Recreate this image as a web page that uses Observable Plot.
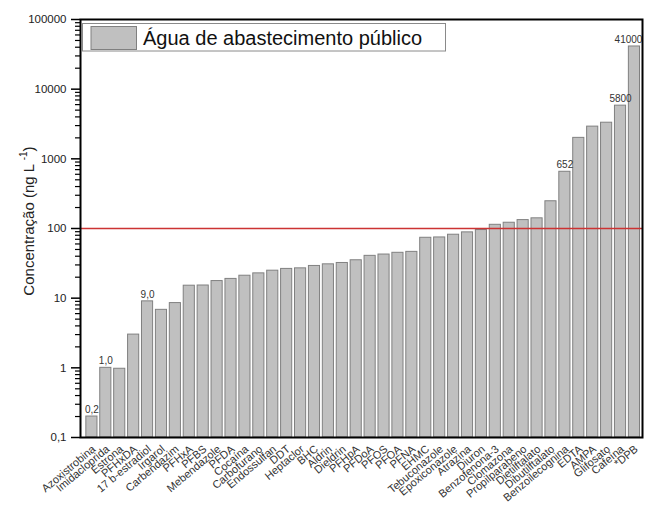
<!DOCTYPE html>
<html>
<head>
<meta charset="utf-8">
<script src="https://cdn.jsdelivr.net/npm/d3@7"></script>
<script src="https://cdn.jsdelivr.net/npm/@observablehq/plot@0.6"></script>
<style>
  body { margin: 0; background: #fff; }
  #chart { width: 646px; height: 511px; }
</style>
</head>
<body>
<div id="chart"></div>
<script>
// Compounds, ordered by concentration
const compounds = [
  "Azoxistrobina", "Imidacloprida", "Estrona", "PFHxDA", "17 b-estradiol",
  "Irgarol", "Carbendazim", "PFHxA", "PFBS", "Mebendazole",
  "PFDA", "Cocaína", "Carbofurano", "Endossulfan", "DDT",
  "Heptaclor", "BHC", "Aldrin", "Dieldrin", "PFHpA",
  "PFDoA", "PFOS", "PFOA", "PFNA", "EHMC",
  "Tebuconazole", "Epoxiconazole", "Atrazina", "Diuron", "Benzofenona-3",
  "Clomazona", "Propilparabeno", "Dietilftalato", "Dibutilftalato", "Benzoilecognina",
  "EDTA", "AMPA", "Glifosato", "Cafeína", "*DPB"
];

// Concentration in public water supply (ng/L)
const concentrations = [
  0.2, 1.0, 0.97, 3.0, 9.0,
  6.8, 8.5, 15.1, 15.2, 17.6,
  18.9, 21, 22.7, 24.8, 26.3,
  26.8, 29, 30.6, 32, 35,
  40.5, 42.3, 44.8, 46.2, 73.6,
  74.4, 81.4, 88, 95, 113,
  121, 132, 140, 246, 652,
  2000, 2900, 3300, 5800, 41000
];

// Compounds whose value is printed above the bar
const labelledCompounds = ["Azoxistrobina", "Imidacloprida", "17 b-estradiol", "Benzoilecognina", "Cafeína", "*DPB"];

// Reference limit (ng/L)
const referenceLimit = [100];

const seriesName = "Água de abastecimento público";
const yTitle = ["Concentração (ng L", "-1", ")"];
const yTicks = [0.1, 1, 10, 100, 1000, 10000, 100000];
const yMinorTicks = yTicks.slice(0, -1).flatMap(d => d3.range(2, 10).map(k => +(d * k).toPrecision(3)));

const data = compounds.map((name, i) => ({name, value: concentrations[i]}));
const lastName = compounds[compounds.length - 1];
const fmtValue = v => v < 10 ? v.toFixed(1).replace(".", ",") : String(v);
const fmtTick = v => v < 1 ? String(v).replace(".", ",") : String(v);

const font = "'Liberation Sans', Arial, sans-serif";
const barFill = "#c0c0c0";
const barStroke = "#808080";

const valueLabels = data.filter(d => labelledCompounds.includes(d.name));

const chart = Plot.plot({
  width: 646,
  height: 511,
  marginLeft: 80,
  marginRight: 4,
  marginTop: 19,
  marginBottom: 74,
  style: {fontFamily: font, background: "#fff", color: "#222"},
  x: {domain: compounds, paddingInner: 0.2, paddingOuter: 0.3, align: 0.7, label: null},
  y: {type: "log", domain: [0.1, 100000], label: null},
  marks: [
    Plot.barY(data, {x: "name", y1: 0.1, y2: "value", fill: barFill, stroke: barStroke, strokeWidth: 1}),
    Plot.ruleY(referenceLimit, {stroke: "#cc3333", strokeWidth: 1.5}),
    // value labels centred over their bars; the last one is pulled inside the frame
    Plot.text(valueLabels.filter(d => d.name !== lastName), {
      x: "name", y: "value", text: d => fmtValue(d.value),
      dy: -7, fontSize: 10, fill: "#333"
    }),
    Plot.text(valueLabels.filter(d => d.name === lastName), {
      x: "name", y: "value", text: d => fmtValue(d.value),
      dy: -7, dx: 8, textAnchor: "end", fontSize: 10, fill: "#333"
    }),
    Plot.axisY({
      ticks: yTicks, tickSize: 9, tickPadding: 5, tickFormat: fmtTick, fontSize: 11.5,
      stroke: "#000", strokeWidth: 1.5, label: null
    }),
    Plot.axisY({ticks: yMinorTicks, tickSize: 5, text: null, label: null, stroke: "#000", strokeWidth: 1.2}),
    Plot.axisX({tickSize: 0, tickRotate: -40, tickPadding: 4, fontSize: 11, fill: "#333", label: null}),
    Plot.frame({stroke: "#000", strokeWidth: 2})
  ]
});

document.getElementById("chart").append(chart);

const svg = d3.select(chart);

// Nudge the rotated category labels a little further below the axis
svg.selectAll('g[aria-label="x-axis tick label"]').each(function () {
  const g = d3.select(this);
  const t = g.attr("transform") || "";
  g.attr("transform", `translate(2,6) ${t}`);
});

// Y-axis title with a superscript exponent
const title = svg.append("text")
  .attr("transform", "translate(34,221) rotate(-90)")
  .attr("text-anchor", "middle")
  .attr("font-family", font)
  .attr("font-size", 15)
  .attr("fill", "#222");
title.append("tspan").text(yTitle[0] + " ");
title.append("tspan").attr("font-size", 10).attr("dy", -7).text(yTitle[1]);
title.append("tspan").attr("dy", 7).text(yTitle[2]);

// Legend box in the upper-left corner of the plotting area
const legend = svg.append("g").attr("class", "legend");
legend.append("rect")
  .attr("x", 82.5).attr("y", 23.5).attr("width", 363).attr("height", 27.5)
  .attr("fill", "#fff").attr("stroke", "#8a8a8a").attr("stroke-width", 1);
legend.append("rect")
  .attr("x", 91).attr("y", 26.5).attr("width", 45.5).attr("height", 23)
  .attr("fill", barFill).attr("stroke", barStroke).attr("stroke-width", 1);
legend.append("text")
  .attr("x", 143).attr("y", 45)
  .attr("text-anchor", "start")
  .attr("font-size", 20).attr("fill", "#111")
  .attr("font-family", font)
  .text(seriesName);
</script>
</body>
</html>
